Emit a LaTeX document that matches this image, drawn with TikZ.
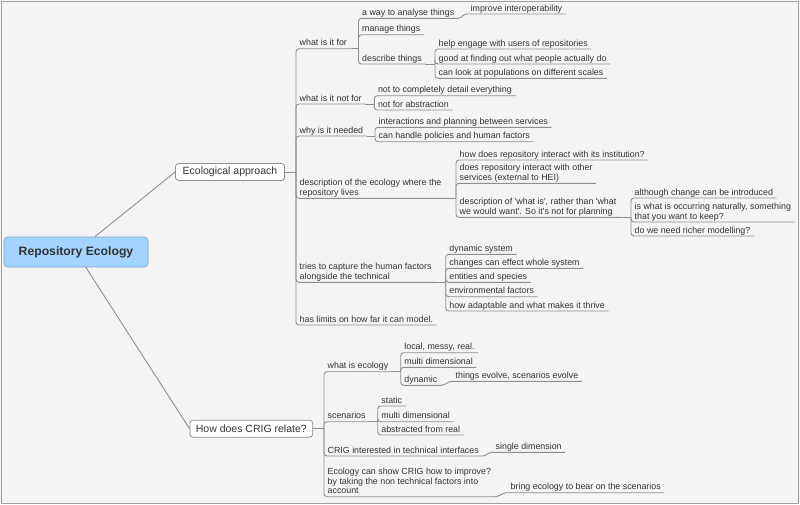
\documentclass[tikz,border=0pt]{standalone}
\usepackage{fontspec}
\setmainfont{Liberation Sans}[Ligatures=TeXOff]
\definecolor{paper}{HTML}{F4F4F4}
\definecolor{framegray}{HTML}{A0A0A0}
\definecolor{edgegray}{HTML}{8E8E8E}
\definecolor{ink}{HTML}{333333}
\definecolor{rootfill}{HTML}{A3D3FF}
\definecolor{rootline}{HTML}{7DA8D3}
\begin{document}
\begin{tikzpicture}[x=1pt,y=-1pt]
\tikzstyle{every node}=[text=ink]
\tikzstyle{leaf}=[anchor=south west, inner xsep=3.5pt, inner ysep=0.7pt, align=left, font=\fontsize{8.85}{9.7}\selectfont, execute at end node={\rule[-2pt]{0pt}{2pt}}]
\tikzstyle{topic}=[draw=edgegray, fill=white, rounded corners=3pt, line width=0.8pt, inner sep=0pt, minimum height=17pt, font=\fontsize{10.5}{12}\selectfont]
\tikzstyle{central}=[draw=rootline, fill=rootfill, rounded corners=4pt, line width=0.8pt, minimum width=144pt, minimum height=30pt, font=\bfseries\fontsize{12.2}{14}\selectfont]
\tikzstyle{link}=[draw=edgegray, line width=0.9pt]
\tikzstyle{spine}=[link, rounded corners=3pt]
\useasboundingbox (0,0) rectangle (800,504);
\fill[paper] (0,0) rectangle (800,504);
\draw[framegray] (1,1) rectangle (798,503);
\draw (76,252) node (root) [central] {Repository Ecology};
\draw (230,172) node (eco) [topic, minimum width=109pt] {Ecological approach};
\draw (251.3,428.7) node (crig) [topic, minimum width=122.7pt] {How does CRIG relate?};
\draw[link] (root) -- (eco.west);
\draw[link] (root) -- (crig.west);
\draw (296,48.7) node (whatfor) [leaf] {what is it for};
\draw (296,104) node (notfor) [leaf] {what is it not for};
\draw (296,136) node (needed) [leaf] {why is it needed};
\draw (296,198.3) node (where) [leaf] {description of the ecology where the\\repository lives};
\draw (296,282.3) node (human) [leaf] {tries to capture the human factors\\alongside the technical};
\draw (296,325) node (limits) [leaf] {has limits on how far it can model.};
\draw (358.5,18.3) node (analyse) [leaf] {a way to analyse things};
\draw (467,14) node (interop) [leaf] {improve interoperability};
\draw (358.5,34.7) node (manage) [leaf] {manage things};
\draw (358.5,64) node (describe) [leaf] {describe things};
\draw (435,49) node (engage) [leaf] {help engage with users of repositories};
\draw (435,64) node (finding) [leaf] {good at finding out what people actually do};
\draw (435,78.3) node (scales) [leaf] {can look at populations on different scales};
\draw (374.3,95.7) node (detail) [leaf] {not to completely detail everything};
\draw (374.3,110) node (abstraction) [leaf] {not for abstraction};
\draw (375,127.3) node (planning) [leaf] {interactions and planning between services};
\draw (375,141.7) node (policies) [leaf] {can handle policies and human factors};
\draw (456,160) node (institution) [leaf] {how does repository interact with its institution?};
\draw (456,183.3) node (services) [leaf] {does repository interact with other\\services (external to HEI)};
\draw (456,217.3) node (whatis) [leaf] {description of 'what is', rather than 'what\\we would want'. So it's not for planning};
\draw (631,198) node (introduced) [leaf] {although change can be introduced};
\draw (631,222) node (keep) [leaf] {is what is occurring naturally, something\\that you want to keep?};
\draw (631,236) node (richer) [leaf] {do we need richer modelling?};
\draw (445.7,254.3) node (dynsys) [leaf] {dynamic system};
\draw (445.7,268.3) node (whole) [leaf] {changes can effect whole system};
\draw (445.7,282.3) node (species) [leaf] {entities and species};
\draw (445.7,296.7) node (envfac) [leaf] {environmental factors};
\draw (445.7,311) node (thrive) [leaf] {how adaptable and what makes it thrive};
\draw (324,371.7) node (whateco) [leaf] {what is ecology};
\draw (324,421.7) node (scenarios) [leaf] {scenarios};
\draw (324,456) node (techint) [leaf] {CRIG interested in technical interfaces};
\draw (324,496.7) node (improve) [leaf] {Ecology can show CRIG how to improve?\\by taking the non technical factors into\\account};
\draw (400.7,352.7) node (messy) [leaf] {local, messy, real.};
\draw (400.7,367.3) node (multidim) [leaf] {multi dimensional};
\draw (400.7,385.3) node (dynamic) [leaf] {dynamic};
\draw (452,381.3) node (evolve) [leaf] {things evolve, scenarios evolve};
\draw (377.7,406) node (static) [leaf] {static};
\draw (377.7,421.7) node (scenmulti) [leaf] {multi dimensional};
\draw (377.7,435) node (abstracted) [leaf] {abstracted from real};
\draw (492,452.3) node (single) [leaf] {single dimension};
\draw (507,492.7) node (bear) [leaf] {bring ecology to bear on the scenarios};
\draw[link] (eco.east) -- (eco.east -| whatfor.south west);
\draw[spine] (eco.east -| whatfor.south west) |- (whatfor.south east);
\draw[spine] (eco.east -| notfor.south west) |- (notfor.south east);
\draw[spine] (eco.east -| needed.south west) |- (needed.south east);
\draw[spine] (eco.east -| where.south west) |- (where.south east);
\draw[spine] (eco.east -| human.south west) |- (human.south east);
\draw[spine] (eco.east -| limits.south west) |- (limits.south east);
\draw[link] (whatfor.south east) -- (whatfor.south east -| analyse.south west);
\draw[spine] (whatfor.south east -| analyse.south west) |- (analyse.south east);
\draw[spine] (whatfor.south east -| manage.south west) |- (manage.south east);
\draw[spine] (whatfor.south east -| describe.south west) |- (describe.south east);
\draw[link] (analyse.south east) to[out=0,in=180] (interop.south west) -- (interop.south east);
\draw[link] (describe.south east) -- (describe.south east -| engage.south west);
\draw[spine] (describe.south east -| engage.south west) |- (engage.south east);
\draw[spine] (describe.south east -| finding.south west) |- (finding.south east);
\draw[spine] (describe.south east -| scales.south west) |- (scales.south east);
\draw[link] (notfor.south east) -- (notfor.south east -| detail.south west);
\draw[spine] (notfor.south east -| detail.south west) |- (detail.south east);
\draw[spine] (notfor.south east -| abstraction.south west) |- (abstraction.south east);
\draw[link] (needed.south east) -- (needed.south east -| planning.south west);
\draw[spine] (needed.south east -| planning.south west) |- (planning.south east);
\draw[spine] (needed.south east -| policies.south west) |- (policies.south east);
\draw[link] (where.south east) -- (where.south east -| institution.south west);
\draw[spine] (where.south east -| institution.south west) |- (institution.south east);
\draw[spine] (where.south east -| services.south west) |- (services.south east);
\draw[spine] (where.south east -| whatis.south west) |- (whatis.south east);
\draw[link] (whatis.south east) -- (whatis.south east -| introduced.south west);
\draw[spine] (whatis.south east -| introduced.south west) |- (introduced.south east);
\draw[spine] (whatis.south east -| keep.south west) |- (keep.south east);
\draw[spine] (whatis.south east -| richer.south west) |- (richer.south east);
\draw[link] (human.south east) -- (human.south east -| dynsys.south west);
\draw[spine] (human.south east -| dynsys.south west) |- (dynsys.south east);
\draw[spine] (human.south east -| whole.south west) |- (whole.south east);
\draw[spine] (human.south east -| species.south west) |- (species.south east);
\draw[spine] (human.south east -| envfac.south west) |- (envfac.south east);
\draw[spine] (human.south east -| thrive.south west) |- (thrive.south east);
\draw[link] (crig.east) -- (crig.east -| whateco.south west);
\draw[spine] (crig.east -| whateco.south west) |- (whateco.south east);
\draw[spine] (crig.east -| scenarios.south west) |- (scenarios.south east);
\draw[spine] (crig.east -| techint.south west) |- (techint.south east);
\draw[spine] (crig.east -| improve.south west) |- (improve.south east);
\draw[link] (whateco.south east) -- (whateco.south east -| messy.south west);
\draw[spine] (whateco.south east -| messy.south west) |- (messy.south east);
\draw[spine] (whateco.south east -| multidim.south west) |- (multidim.south east);
\draw[spine] (whateco.south east -| dynamic.south west) |- (dynamic.south east);
\draw[link] (dynamic.south east) to[out=0,in=180] (evolve.south west) -- (evolve.south east);
\draw[link] (scenarios.south east) -- (scenarios.south east -| static.south west);
\draw[spine] (scenarios.south east -| static.south west) |- (static.south east);
\draw[spine] (scenarios.south east -| scenmulti.south west) |- (scenmulti.south east);
\draw[spine] (scenarios.south east -| abstracted.south west) |- (abstracted.south east);
\draw[link] (techint.south east) to[out=0,in=180] (single.south west) -- (single.south east);
\draw[link] (improve.south east) to[out=0,in=180] (bear.south west) -- (bear.south east);
\end{tikzpicture}
\end{document}
